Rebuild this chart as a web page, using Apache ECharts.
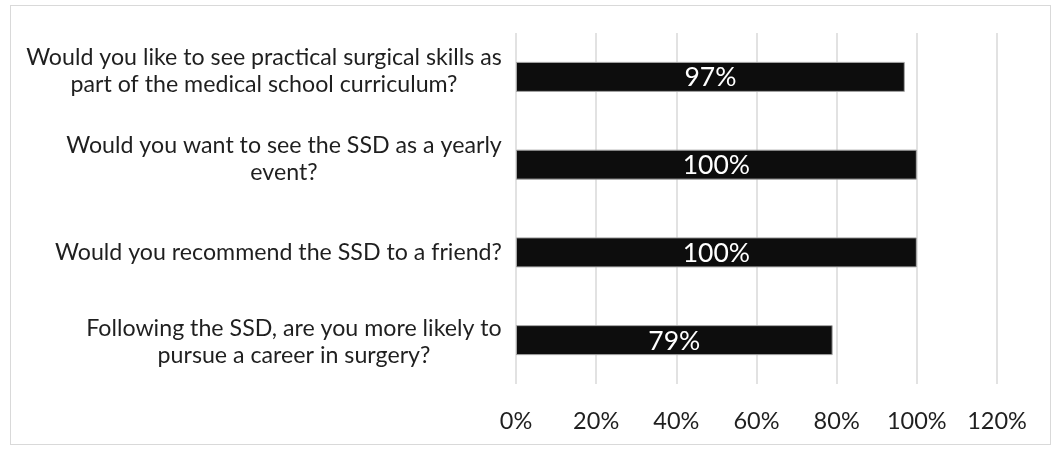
<!DOCTYPE html>
<html>
<head>
<meta charset="utf-8">
<script src="https://cdn.jsdelivr.net/npm/echarts@6/dist/echarts.min.js"></script>
<style>
html,body{margin:0;padding:0;background:#fff;}
#frame{position:absolute;left:10px;top:5px;width:1041px;height:440px;border:1px solid #d9d9d9;box-sizing:border-box;}
#chart{position:absolute;left:0;top:0;width:1057px;height:450px;}
</style>
</head>
<body>
<div id="frame"></div>
<div id="chart"></div>
<script>
// Data
var categories = [
  "Would you like to see practical surgical skills as\npart of the medical school curriculum?",
  "Would you want to see the SSD as a yearly\nevent?",
  "Would you recommend the SSD to a friend?",
  "Following the SSD, are you more likely to\npursue a career in surgery?"
];
var values = [97, 100, 100, 79];
var tickLabels = ["0%", "20%", "40%", "60%", "80%", "100%", "120%"];

var FONT = "Lato";
var FS = 23.2;
var TEXT = '#1f1f1f';
// small vertical nudges of the wrapped labels (positive = up)
var nudge = [6, 6, 0, -2];

// measure label widths so each multi-line label is centred line-by-line
var cv = document.createElement('canvas').getContext('2d');
cv.font = FS + "px " + FONT;
var rich = {};
categories.forEach(function (c, i) {
  var w = 0;
  c.split('\n').forEach(function (l) { w = Math.max(w, cv.measureText(l).width); });
  rich['c' + i] = { width: Math.ceil(w) + 2, align: 'center', fontFamily: FONT, fontSize: FS, color: TEXT, lineHeight: 27 };
  if (nudge[i] !== 0) {
    rich['s' + i] = { fontSize: 1, lineHeight: 2 * Math.abs(nudge[i]), height: 2 * Math.abs(nudge[i]), color: 'transparent' };
  }
});

var chart = echarts.init(document.getElementById('chart'));
chart.setOption({
  animation: false,
  backgroundColor: 'transparent',
  grid: { left: 516, right: 60, top: 33, bottom: 66, containLabel: false },
  xAxis: {
    type: 'value', min: 0, max: 120, interval: 20,
    axisLine: { show: false }, axisTick: { show: false },
    splitLine: { show: true, lineStyle: { color: '#d9d9d9', width: 1.5 } },
    axisLabel: {
      margin: 25, fontFamily: FONT, fontSize: 23.5, color: TEXT,
      formatter: function (v) { return tickLabels[Math.round(v / 20)]; }
    }
  },
  yAxis: {
    type: 'category', inverse: true, data: categories,
    axisLine: { show: false }, axisTick: { show: false },
    axisLabel: {
      margin: 13,
      formatter: function (v) {
        var i = categories.indexOf(v);
        var s = v.split('\n').map(function (l) { return '{c' + i + '|' + l + '}'; }).join('\n');
        if (nudge[i] > 0) s = s + '\n{s' + i + '| }';
        if (nudge[i] < 0) s = '{s' + i + '| }\n' + s;
        return s;
      },
      rich: rich
    }
  },
  series: [{
    type: 'bar', data: values, barWidth: 30,
    itemStyle: { color: '#0d0d0d', borderColor: '#a6a6a6', borderWidth: 1 },
    label: {
      show: true, position: 'inside', color: '#ffffff', fontFamily: FONT, fontSize: 26.5,
      offset: [0, 1],
      formatter: function (p) { return p.value + '%'; }
    }
  }]
});
</script>
</body>
</html>
